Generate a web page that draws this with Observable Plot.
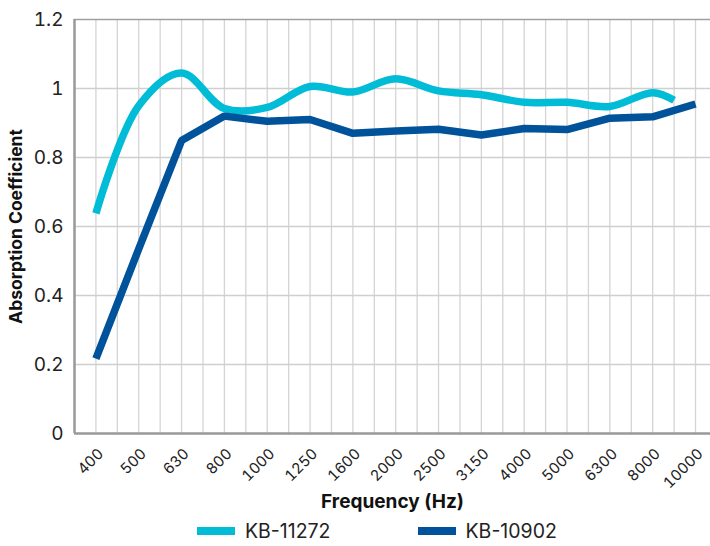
<!DOCTYPE html>
<html>
<head>
<meta charset="utf-8">
<script src="https://cdn.jsdelivr.net/npm/d3@7"></script>
<script src="https://cdn.jsdelivr.net/npm/@observablehq/plot@0.6"></script>
<style>
  html, body { margin: 0; padding: 0; background: #fff; }
  body { width: 710px; font-family: Inter, "Noto Sans", sans-serif; }
  #chart svg { display: block; font-family: Inter, "Noto Sans", sans-serif; }
  .legend { display: flex; align-items: center; height: 26px; padding-left: 197px; font-size: 19.5px; color: #222; }
  .legend .item { display: flex; align-items: center; }
  .legend .sw { width: 38px; height: 8px; margin-right: 10px; }
  .legend .item + .item { margin-left: 87px; }
</style>
</head>
<body>
<div id="chart"></div>
<div class="legend" id="legend"></div>
<script>
const categories = ["400","500","630","800","1000","1250","1600","2000","2500","3150","4000","5000","6300","8000","10000"];
const seriesNames = ["KB-11272", "KB-10902"];
const seriesColors = ["#00BCD6", "#00529B"];
// KB-11272: last point sits between 8000 and 10000 in the reference
const kb11272Pos = [0,1,2,3,4,5,6,7,8,9,10,11,12,13,13.5];
const kb11272 = [0.638,0.95,1.045,0.942,0.945,1.006,0.99,1.028,0.993,0.982,0.96,0.96,0.948,0.988,0.966];
const kb10902Pos = [0,1,2,3,4,5,6,7,8,9,10,11,12,13,14];
const kb10902 = [0.217,0.535,0.849,0.92,0.905,0.91,0.87,0.877,0.882,0.865,0.884,0.881,0.914,0.918,0.955];
const yTicks = [0,0.2,0.4,0.6,0.8,1,1.2];

const d1 = kb11272.map((v,i) => ({x: kb11272Pos[i], y: v}));
const d2 = kb10902.map((v,i) => ({x: kb10902Pos[i], y: v}));
const catIdx = categories.map((c,i) => i);
const halfGrid = d3.range(0, categories.length * 2).map(k => k / 2);

const plot = Plot.plot({
  width: 710,
  height: 518,
  marginLeft: 74,
  marginRight: 0,
  marginTop: 19,
  marginBottom: 85,
  x: {type: "linear", domain: [-0.5, 14.35]},
  y: {domain: [0, 1.2]},
  marks: [
    Plot.ruleX(halfGrid, {stroke: "#d4d4d4", strokeWidth: 1.3}),
    Plot.ruleY(yTicks.slice(1, -1), {stroke: "#cfcfcf", strokeWidth: 1.3}),
    Plot.ruleY([1.2], {stroke: "#a0a0a0", strokeWidth: 1.5}),
    Plot.ruleY([0], {stroke: "#999", strokeWidth: 2.5}),
    Plot.ruleX([-0.5], {stroke: "#999", strokeWidth: 2.5}),
    Plot.axisY(yTicks, {tickSize: 0, tickPadding: 11, fontSize: 19, fill: "#222",
      tickFormat: d => String(d),
      label: "Absorption Coefficient", labelAnchor: "center", labelArrow: "none", labelOffset: 65}),
    Plot.axisX(catIdx, {tickSize: 0, tickRotate: -45, fontSize: 15, fill: "#222",
      tickFormat: i => categories[i], dx: 5, dy: 6,
      label: "Frequency (Hz)", labelAnchor: "center", labelArrow: "none", labelOffset: 74}),
    Plot.line(d1, {x: "x", y: "y", curve: "catmull-rom", stroke: seriesColors[0], strokeWidth: 7.5, strokeLinecap: "butt"}),
    Plot.line(d2, {x: "x", y: "y", stroke: seriesColors[1], strokeWidth: 7.5, strokeLinecap: "butt", strokeLinejoin: "miter"})
  ]
});
document.getElementById("chart").appendChild(plot);

// bold axis titles
plot.querySelectorAll('[aria-label="y-axis label"] text').forEach(t => {
  t.style.fontWeight = "700"; t.style.fontSize = "17.5px"; t.style.fill = "#111";
});
plot.querySelectorAll('[aria-label="x-axis label"] text').forEach(t => {
  t.style.fontWeight = "700"; t.style.fontSize = "19px"; t.style.fill = "#111";
});

const legend = document.getElementById("legend");
seriesNames.forEach((n, i) => {
  const item = document.createElement("div");
  item.className = "item";
  item.innerHTML = `<span class="sw" style="background:${seriesColors[i]}"></span><span>${n}</span>`;
  legend.appendChild(item);
});
</script>
</body>
</html>
